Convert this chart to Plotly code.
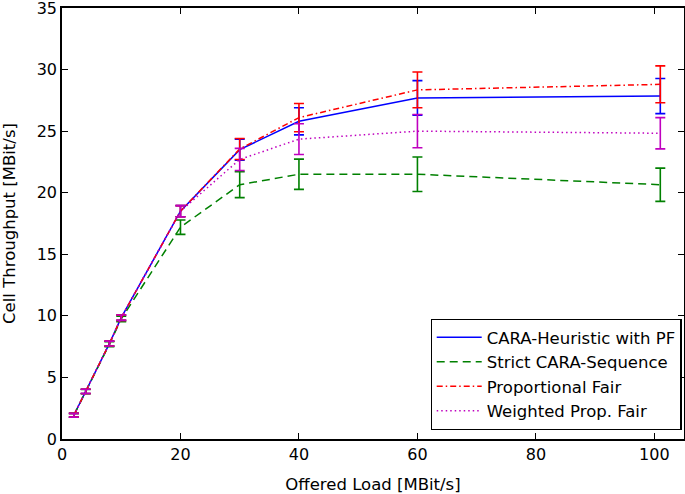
import plotly.graph_objects as go

# offered load points [MBit/s]
load = [2, 4, 8, 10, 20, 30, 40, 60, 101]

heuristic_pf = [1.93, 3.87, 7.75, 9.85, 18.5, 23.5, 25.8, 27.7, 27.85]
heuristic_pf_err = [0.15, 0.17, 0.2, 0.22, 0.45, 0.85, 1.1, 1.4, 1.43]

strict_seq = [1.93, 3.85, 7.7, 9.75, 17.2, 20.65, 21.5, 21.5, 20.65]
strict_seq_err = [0.15, 0.17, 0.2, 0.22, 0.58, 1.05, 1.23, 1.4, 1.35]

prop_fair = [1.93, 3.87, 7.75, 9.85, 18.5, 23.55, 26.1, 28.35, 28.8]
prop_fair_err = [0.15, 0.17, 0.2, 0.22, 0.45, 0.85, 1.15, 1.45, 1.5]

weighted_pf = [1.93, 3.87, 7.75, 9.85, 18.5, 22.7, 24.35, 25.0, 24.83]
weighted_pf_err = [0.15, 0.17, 0.2, 0.22, 0.45, 0.9, 1.25, 1.35, 1.27]

series = [
    ("CARA-Heuristic with PF", heuristic_pf, heuristic_pf_err, "#0000ff", "solid"),
    ("Strict CARA-Sequence", strict_seq, strict_seq_err, "#008000", "8px,5px"),
    ("Proportional Fair", prop_fair, prop_fair_err, "#ff0000", "6px,3px,1.5px,3px"),
    ("Weighted Prop. Fair", weighted_pf, weighted_pf_err, "#bf00bf", "1.5px,3px"),
]

fig = go.Figure()

for name, vals, errs, color, dash in series:
    fig.add_trace(go.Scatter(
        x=load, y=vals, mode='lines', name=name,
        line=dict(color=color, width=1.5, dash=dash),
        error_y=dict(type='data', array=errs, visible=True,
                     color=color, thickness=1.6, width=5)
    ))

axis_common = dict(
    showline=True, linecolor='black', linewidth=1.5, mirror='ticks',
    ticks='inside', ticklen=6, tickwidth=1.2, tickcolor='black',
    showgrid=False, zeroline=False, ticklabeloverflow='allow',
    automargin=False,
    tickfont=dict(size=16, color='black'),
)

fig.update_layout(
    width=685, height=494,
    margin=dict(l=62, r=1, t=8, b=55),
    plot_bgcolor='white',
    paper_bgcolor='white',
    font=dict(family='DejaVu Sans', color='black', size=16.5),
    xaxis=dict(range=[0, 105], tickvals=[0, 20, 40, 60, 80, 100],
               title=dict(text='Offered Load [MBit/s]', font=dict(size=16.5), standoff=15),
               **axis_common),
    yaxis=dict(range=[0, 35], tickvals=[0, 5, 10, 15, 20, 25, 30, 35],
               title=dict(text='Cell Throughput [MBit/s]', font=dict(size=16.5), standoff=17),
               **axis_common),
    legend=dict(x=0.996, y=0.021, xanchor='right', yanchor='bottom',
                bgcolor='white', bordercolor='black', borderwidth=1.2,
                font=dict(size=16.5), itemwidth=45),
    showlegend=True,
)

fig.write_html("out.html", config={'displayModeBar': False},
               post_script="document.body.style.margin='0';document.body.style.overflow='hidden';")
